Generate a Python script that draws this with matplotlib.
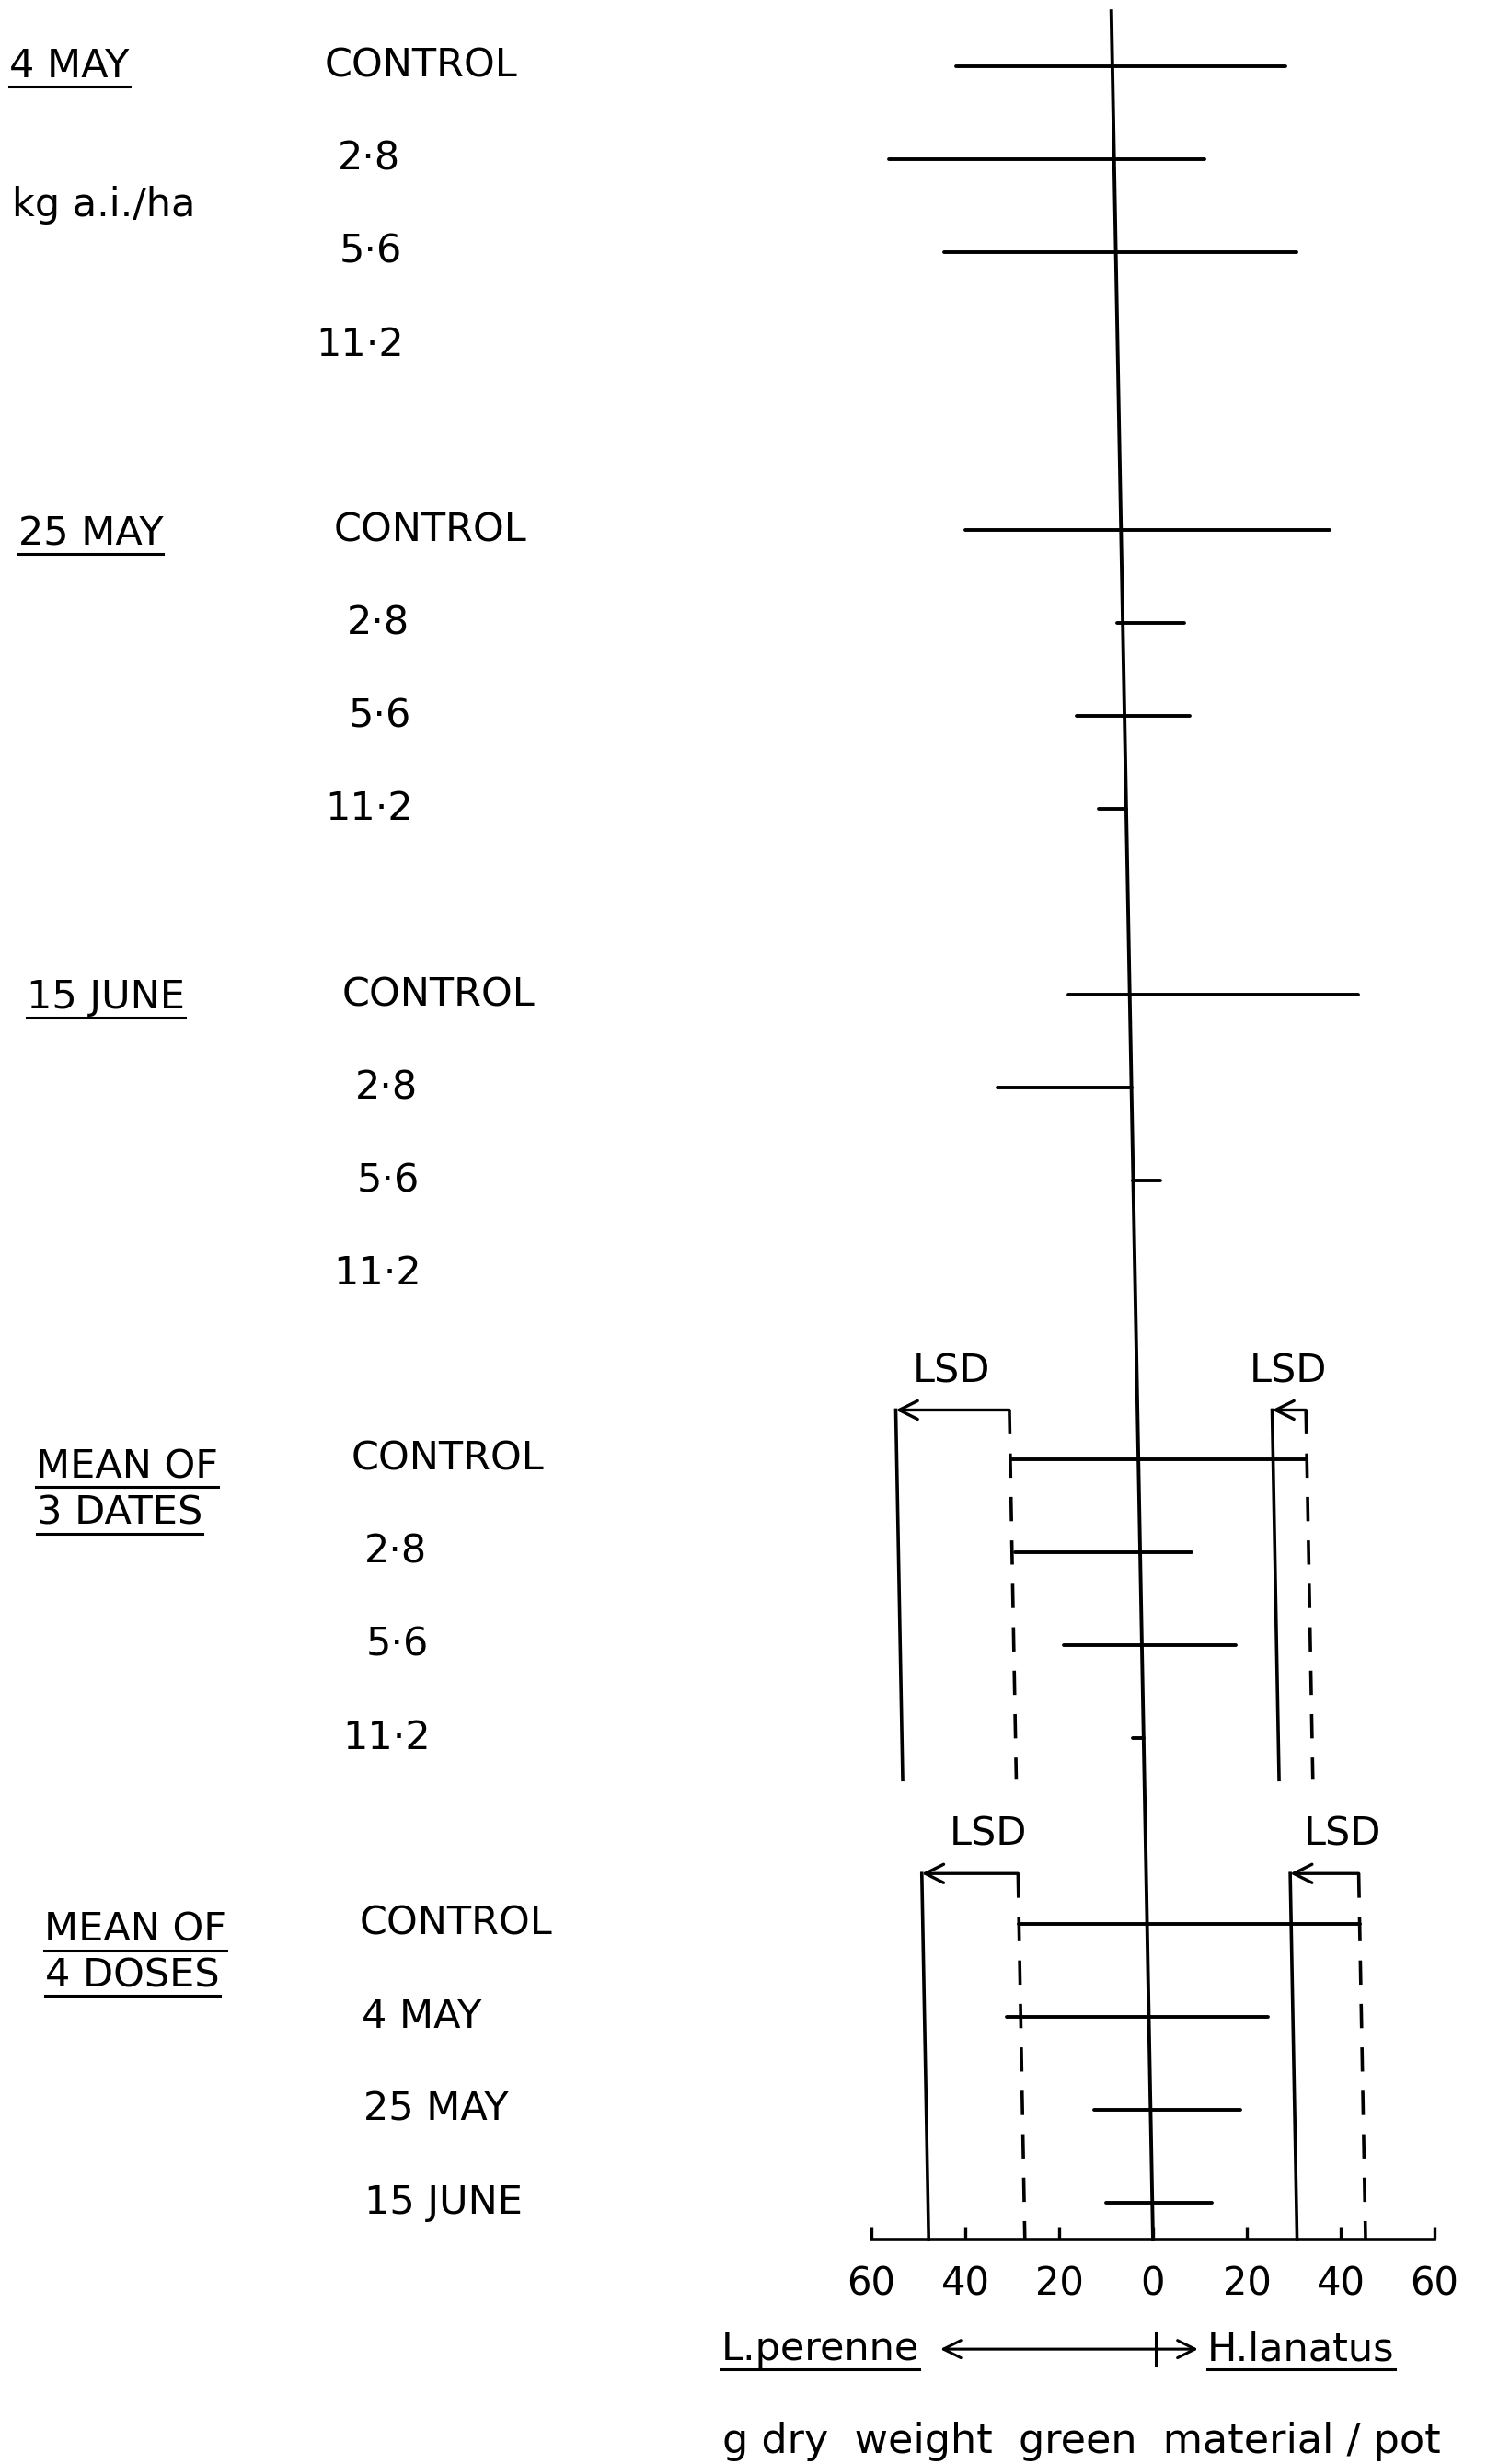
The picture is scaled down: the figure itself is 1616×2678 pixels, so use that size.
import numpy as np
import matplotlib
matplotlib.use('Agg')
import matplotlib.pyplot as plt
import matplotlib.transforms as mtransforms
from matplotlib.lines import Line2D

plt.rcParams['font.family'] = ['DejaVu Sans']
plt.rcParams['lines.scale_dashes'] = False

# ---------------- data ----------------
rows = [0, 1, 2, 3, 5, 6, 7, 8, 10, 11, 12, 13, 15, 16, 17, 18, 20, 21, 22, 23]
row_labels = ['CONTROL', '2·8', '5·6', '11·2',
              'CONTROL', '2·8', '5·6', '11·2',
              'CONTROL', '2·8', '5·6', '11·2',
              'CONTROL', '2·8', '5·6', '11·2',
              'CONTROL', '4 MAY', '25 MAY', '15 JUNE']
# g dry weight green material / pot (left = L. perenne, right = H. lanatus)
lperenne = [33.4, 48.0, 36.6, 0.0,
            33.2, 1.2, 10.2, 5.8,
            13.0, 28.6, 0.0, 0.0,
            27.3, 26.7, 16.7, 2.4,
            27.3, 30.2, 12.0, 9.8]
hlanatus = [36.8, 19.2, 38.5, 0.0,
            44.5, 13.2, 13.9, 0.0,
            48.6, 0.0, 5.7, 0.0,
            35.9, 10.9, 20.0, 0.0,
            45.3, 25.4, 19.2, 12.6]

group_titles = [['4 MAY'], ['25 MAY'], ['15 JUNE'], ['MEAN OF', '3 DATES'], ['MEAN OF', '4 DOSES']]
group_title_rows = [[0.0], [5.04], [10.03], [15.08, 15.58], [20.07, 20.56]]

# LSD bars for the two mean groups
lsd_groups = [15, 20]
lsd_lperenne = [24.2, 20.5]
lsd_hlanatus = [7.2, 14.6]
lsd_arrow_rows = [14.47, 19.46]
lsd_bottom_rows = [18.45, 23.4]
lsd_label_dx = [0.0, 4.0]

tick_values = [-60, -40, -20, 0, 20, 40, 60]
tick_labels = ['60', '40', '20', '0', '20', '40', '60']

# ---------------- figure ----------------
FS = 31
LW = 2.8
fig = plt.figure(figsize=(16.16, 26.78), dpi=100)
ax = fig.add_axes([947 / 1616, 1 - 2434 / 2678, 612 / 1616, 2434 / 2678])
ax.set_autoscale_on(False)
ax.set_xlim(-60, 60)
Y0 = 23.4
ax.set_ylim(Y0, -0.71)
for sp in ['left', 'right', 'top']:
    ax.spines[sp].set_visible(False)
ax.spines['bottom'].set_linewidth(2.6)
ax.set_yticks([])
ax.set_xticks(tick_values)
ax.set_xticklabels(tick_labels, fontsize=30)
ax.tick_params(axis='x', direction='in', length=10, width=2.4, pad=20)

# slight skew of the hand drawing (scan)
S = 0.37
skew = mtransforms.Affine2D(np.array([[1.0, S, -S * Y0], [0.0, 1.0, 0.0], [0.0, 0.0, 1.0]])) + ax.transData

# central zero line
ax.plot([0, 0], [-0.59, Y0], color='k', lw=LW, transform=skew, clip_on=False)

# bars
for r, lv, hv in zip(rows, lperenne, hlanatus):
    if lv > 0 or hv > 0:
        ax.plot([-lv, hv], [r, r], color='k', lw=LW, transform=skew,
                solid_capstyle='round', clip_on=False)

# row labels
for r, lab in zip(rows, row_labels):
    if lab == 'CONTROL' or r >= 20:
        ax.text(-167.8, r, lab, ha='left', va='center', fontsize=FS, transform=skew, clip_on=False)
    else:
        ax.text(-152.0, r, lab, ha='right', va='center', fontsize=FS, transform=skew, clip_on=False)

underlined = []
for titles, trows in zip(group_titles, group_title_rows):
    for t, tr in zip(titles, trows):
        underlined.append(ax.text(-235.0, tr, t, ha='left', va='center', fontsize=FS,
                                  transform=skew, clip_on=False))
ax.text(-235.0, 1.5, 'kg a.i./ha', ha='left', va='center', fontsize=FS, transform=skew, clip_on=False)

# LSD indicators
for k, g in enumerate(lsd_groups):
    i = rows.index(g)
    ld = -lperenne[i]
    ls = ld - lsd_lperenne[k]
    rd = hlanatus[i]
    rs = rd - lsd_hlanatus[k]
    ya = lsd_arrow_rows[k]
    yb = lsd_bottom_rows[k]
    for xd in (ld, rd):
        ax.plot([xd, xd], [ya, yb], color='k', lw=2.6, linestyle=(0, (19, 15)),
                transform=skew, clip_on=False)
    for xs in (ls, rs):
        ax.plot([xs, xs], [ya, yb], color='k', lw=2.6, transform=skew, clip_on=False)
    for xs, xd in ((ls, ld), (rs, rd)):
        ax.annotate('', xy=(xs, ya), xytext=(xd, ya), xycoords=skew, textcoords=skew,
                    annotation_clip=False,
                    arrowprops=dict(arrowstyle='->', lw=2.4, color='k', shrinkA=0, shrinkB=0,
                                    mutation_scale=36))
        ax.text((xs + xd) / 2 + lsd_label_dx[k], ya - 0.42, 'LSD', ha='center', va='center',
                fontsize=FS, transform=skew, clip_on=False)

# species direction legend below axis
yl = 24.58
underlined.append(ax.text(-49.8, yl, 'L.perenne', ha='right', va='center', fontsize=FS, clip_on=False))
underlined.append(ax.text(11.6, yl, 'H.lanatus', ha='left', va='center', fontsize=FS, clip_on=False))
ax.annotate('', xy=(-45.3, yl), xytext=(9.6, yl), xycoords='data', annotation_clip=False,
            arrowprops=dict(arrowstyle='<->', lw=2.2, color='k', shrinkA=0, shrinkB=0,
                            mutation_scale=34))
ax.plot([0.5, 0.5], [yl - 0.18, yl + 0.18], color='k', lw=2.2, clip_on=False)
ax.text(-15.3, 25.57, 'g dry  weight  green  material / pot', ha='center', va='center',
        fontsize=32, clip_on=False)

# underlines
fig.canvas.draw()
for t in underlined:
    bb = t.get_window_extent()
    fig.add_artist(Line2D([bb.x0, bb.x1], [bb.y0 - 1, bb.y0 - 1], color='k', lw=2.2,
                          transform=mtransforms.IdentityTransform()))

fig.savefig('out.png', dpi=100)
